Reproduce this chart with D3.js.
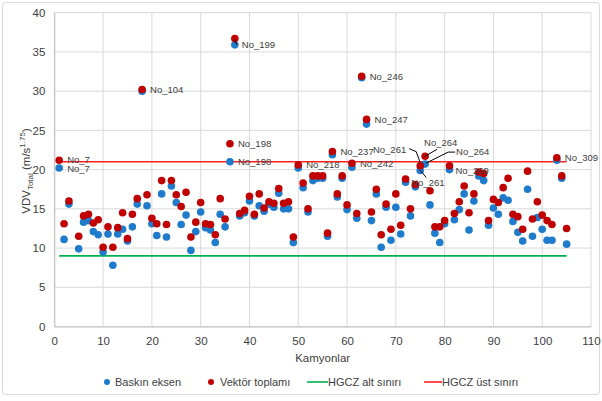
<!DOCTYPE html>
<html>
<head>
<meta charset="utf-8">
<script src="https://cdn.jsdelivr.net/npm/d3@7"></script>
<style>
  body { margin: 0; background: #fff; }
  text { font-family: "Liberation Sans", Arial, sans-serif; fill: #404040; }
</style>
</head>
<body>
<div id="chart"></div>
<script>
// truck numbers (no point drawn for 4)
var trucks = d3.range(1, 106);

// dominant axis VDV (blue)
var baskin = [20.2, 11.1, 15.6, null, 9.9, 13.3, 13.5, 12.1, 11.7, 9.5,
  11.8, 7.8, 11.8, 12.4, 10.9, 12.7, 15.6, 30.0, 15.4, 13.1,
  11.6, 16.9, 11.4, 17.9, 15.8, 13.0, 14.2, 9.7, 12.1, 14.6,
  12.6, 12.3, 10.7, 14.3, 12.7, 21.0, 35.9, 14.1, 14.5, 16.0,
  14.1, 15.4, 14.7, 15.6, 15.2, 17.0, 15.0, 15.0, 10.7, 20.2,
  17.7, 14.6, 18.6, 18.9, 18.9, 11.5, 21.9, 16.5, 18.9, 14.9,
  20.3, 13.8, 31.7, 25.8, 13.5, 16.9, 10.1, 15.2, 11.0, 15.2,
  11.8, 18.4, 14.1, 17.8, 19.9, 20.7, 15.5, 11.9, 10.7, 13.1,
  20.0, 13.6, 14.9, 16.9, 12.3, 16.0, 19.2, 18.6, 12.9, 15.1,
  14.3, 16.4, 16.1, 13.4, 12.0, 10.9, 17.5, 11.5, 13.9, 12.4,
  11.0, 11.0, 21.2, 18.9, 10.5];

// vector sum VDV (red)
var vektor = [21.2, 13.1, 16.0, null, 11.5, 14.1, 14.3, 13.2, 13.6, 10.1,
  12.7, 10.1, 12.6, 14.5, 11.2, 14.3, 16.3, 30.2, 16.8, 13.8,
  13.1, 18.6, 13.0, 18.6, 16.8, 15.3, 17.1, 11.4, 13.3, 15.8,
  13.1, 13.0, 11.7, 16.3, 13.7, 23.3, 36.7, 14.4, 14.8, 16.6,
  14.3, 16.9, 15.1, 15.9, 15.7, 17.6, 15.7, 15.9, 11.4, 20.6,
  18.3, 15.0, 19.2, 19.2, 19.2, 11.9, 22.3, 16.9, 19.2, 15.5,
  20.8, 14.4, 31.9, 26.4, 14.6, 17.5, 11.7, 15.6, 12.4, 16.9,
  12.9, 18.8, 15.0, 18.1, 20.5, 21.7, 17.3, 12.7, 12.7, 13.5,
  20.5, 14.4, 15.9, 17.9, 14.5, 16.9, 19.7, 19.5, 13.5, 16.2,
  15.8, 17.7, 18.9, 14.3, 14.0, 12.4, 19.8, 13.7, 15.9, 14.2,
  13.5, 13.0, 21.5, 19.2, 12.5];

var hgczAlt = 9.0;
var hgczUst = 21.0;
var limitRange = [1, 105];

var xTicks = d3.range(0, 111, 10);
var yTicks = d3.range(0, 41, 5);

// point labels: [text, series, truck]
var labels = [
  ["No_7", "v", 1], ["No_7", "b", 1], ["No_104", "v", 18],
  ["No_199", "b", 37], ["No_198", "v", 36], ["No_198", "b", 36],
  ["No_218", "v", 50], ["No_237", "v", 57], ["No_242", "v", 61],
  ["No_246", "v", 63], ["No_247", "v", 64], ["No_261", "v", 75],
  ["No_261", "b", 75], ["No_264", "v", 76], ["No_264", "b", 76],
  ["No_269", "b", 81], ["No_309", "v", 103]
];

var width = 602, height = 401;
var margin = {left: 54.3, right: 11, top: 12.7, bottom: 74.5};

var svg = d3.select("#chart").append("svg")
  .attr("width", width).attr("height", height);

// chart frame
svg.append("rect")
  .attr("x", 2.5).attr("y", 2.5)
  .attr("width", 597).attr("height", 392)
  .attr("rx", 3)
  .attr("fill", "#fff").attr("stroke", "#d9d9d9");

var x = d3.scaleLinear().domain([0, 110]).range([margin.left, width - margin.right]);
var y = d3.scaleLinear().domain([0, 40]).range([height - margin.bottom, margin.top]);

// grid
svg.append("g").selectAll("line").data(yTicks).enter().append("line")
  .attr("x1", x(0)).attr("x2", x(110))
  .attr("y1", function(d) { return y(d); }).attr("y2", function(d) { return y(d); })
  .attr("stroke", "#d9d9d9").attr("stroke-width", 1);
svg.append("g").selectAll("line").data(xTicks).enter().append("line")
  .attr("y1", y(0)).attr("y2", y(40))
  .attr("x1", function(d) { return x(d); }).attr("x2", function(d) { return x(d); })
  .attr("stroke", "#d9d9d9").attr("stroke-width", 1);

// axes
var yAxis = svg.append("g")
  .attr("transform", "translate(" + margin.left + ",0)")
  .call(d3.axisLeft(y).tickValues(yTicks).tickSize(0).tickPadding(9));
var xAxis = svg.append("g")
  .attr("transform", "translate(0," + y(0) + ")")
  .call(d3.axisBottom(x).tickValues(xTicks).tickSize(0).tickPadding(10));
[xAxis, yAxis].forEach(function(a) {
  a.select(".domain").attr("stroke", "#bfbfbf");
  a.selectAll("text").style("font-size", "11.5px")
    .style("font-family", "Liberation Sans, Arial, sans-serif").attr("fill", "#404040");
});

// axis titles
svg.append("text")
  .attr("x", (x(0) + x(110)) / 2).attr("y", 362)
  .attr("text-anchor", "middle").style("font-size", "11.5px")
  .text("Kamyonlar");

var yt = svg.append("text")
  .attr("transform", "translate(30," + 171 + ") rotate(-90)")
  .attr("text-anchor", "middle").style("font-size", "11.5px");
yt.append("tspan").text("VDV");
yt.append("tspan").attr("dy", 3).style("font-size", "8px").text("Total");
yt.append("tspan").attr("dy", -3).text(" (m/s");
yt.append("tspan").attr("dy", -5).style("font-size", "8px").text("1.75");
yt.append("tspan").attr("dy", 5).text(")");

// limit lines
svg.append("line")
  .attr("x1", x(limitRange[0])).attr("x2", x(limitRange[1]))
  .attr("y1", y(hgczAlt)).attr("y2", y(hgczAlt))
  .attr("stroke", "#00b050").attr("stroke-width", 1.6);
svg.append("line")
  .attr("x1", x(limitRange[0])).attr("x2", x(limitRange[1]))
  .attr("y1", y(hgczUst)).attr("y2", y(hgczUst))
  .attr("stroke", "#ff2020").attr("stroke-width", 1.6);

// points
var blueCol = "#1f7bcb", redCol = "#c00000";
var blueData = trucks.map(function(t, i) { return {t: t, v: baskin[i]}; }).filter(function(d) { return d.v != null; });
var redData = trucks.map(function(t, i) { return {t: t, v: vektor[i]}; }).filter(function(d) { return d.v != null; });

svg.append("g").selectAll("circle").data(blueData).enter().append("circle")
  .attr("cx", function(d) { return x(d.t); })
  .attr("cy", function(d) { return y(d.v); })
  .attr("r", 3.8).attr("fill", blueCol);
svg.append("g").selectAll("circle").data(redData).enter().append("circle")
  .attr("cx", function(d) { return x(d.t); })
  .attr("cy", function(d) { return y(d.v); })
  .attr("r", 3.8).attr("fill", redCol);

// label placement relative to the point (dx, dy, anchor, leader path points)
var labelPos = {
  "No_7v": {dx: 8, dy: -1, anchor: "start"},
  "No_7b": {dx: 8, dy: 1, anchor: "start"},
  "No_261v": {dx: -14, dy: -16, anchor: "end", leader: [[0, -3], [-4, -14], [-11, -17]]},
  "No_261b": {dx: -9, dy: 12, anchor: "start", leader: [[0, 0], [6, 7]]},
  "No_264v": {dx: -1, dy: -14, anchor: "start", leader: [[0, 0], [12, -7]]},
  "No_264b": {dx: 31, dy: -12.5, anchor: "start", leader: [[1, -1], [23, -12], [30, -12]]},
  "No_269b": {dx: 6, dy: 1, anchor: "start"},
  "No_199b": {dx: 7, dy: 0, anchor: "start"}
};

labels.forEach(function(l) {
  var i = trucks.indexOf(l[2]);
  var val = l[1] == "v" ? vektor[i] : baskin[i];
  var px = x(l[2]), py = y(val);
  var p = labelPos[l[0] + l[1]] || {dx: 8, dy: 0, anchor: "start"};
  if (p.leader) {
    svg.append("path")
      .attr("d", d3.line()(p.leader.map(function(q) { return [px + q[0], py + q[1]]; })))
      .attr("fill", "none").attr("stroke", "#000").attr("stroke-width", 1);
  }
  svg.append("text")
    .attr("x", px + p.dx).attr("y", py + p.dy)
    .attr("dy", "0.35em")
    .attr("text-anchor", p.anchor)
    .style("font-size", "9.5px").attr("fill", "#262626")
    .text(l[0]);
});

// small leader for No_199
svg.append("line")
  .attr("x1", x(37)).attr("y1", y(vektor[36]) + 1)
  .attr("x2", x(37) + 2).attr("y2", y(baskin[36]))
  .attr("stroke", "#000").attr("stroke-width", 1);

// legend
var legY = 382;
var leg = svg.append("g").style("font-size", "11px");
leg.append("circle").attr("cx", 107).attr("cy", legY).attr("r", 3).attr("fill", blueCol);
leg.append("text").attr("x", 115).attr("y", legY).attr("dy", "0.35em").text("Baskın eksen");
leg.append("circle").attr("cx", 211).attr("cy", legY).attr("r", 3).attr("fill", redCol);
leg.append("text").attr("x", 220).attr("y", legY).attr("dy", "0.35em").text("Vektör toplamı");
leg.append("line").attr("x1", 307).attr("x2", 328).attr("y1", legY).attr("y2", legY)
  .attr("stroke", "#00b050").attr("stroke-width", 1.6);
leg.append("text").attr("x", 328).attr("y", legY).attr("dy", "0.35em").text("HGCZ alt sınırı");
leg.append("line").attr("x1", 424).attr("x2", 442).attr("y1", legY).attr("y2", legY)
  .attr("stroke", "#ff2020").attr("stroke-width", 1.6);
leg.append("text").attr("x", 442).attr("y", legY).attr("dy", "0.35em").text("HGCZ üst sınırı");
</script>
</body>
</html>
